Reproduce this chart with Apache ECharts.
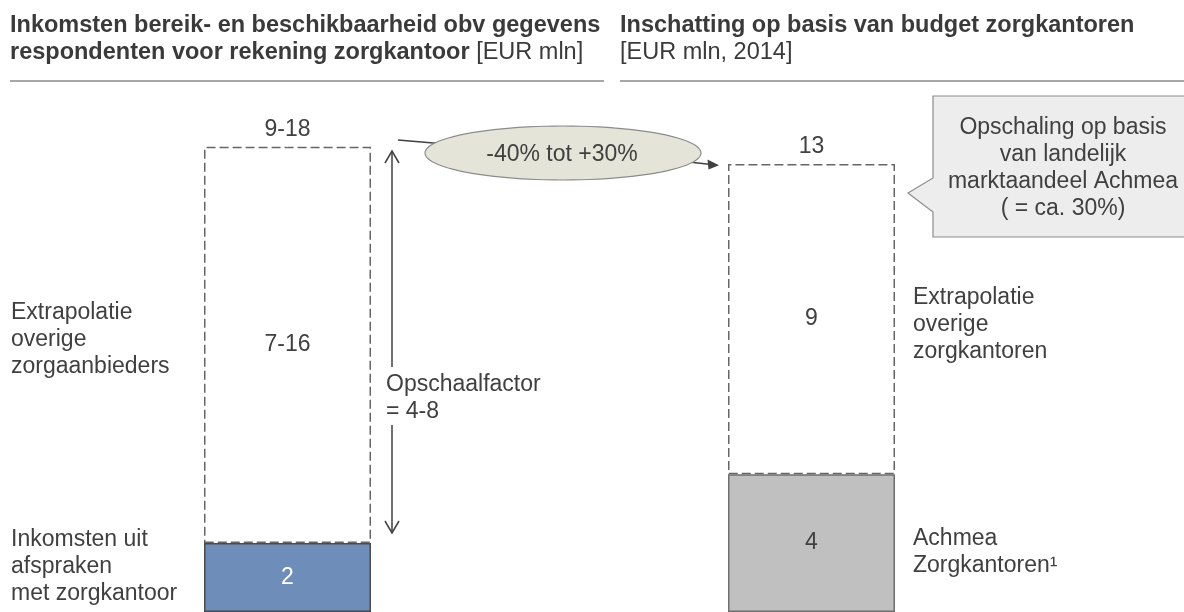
<!DOCTYPE html>
<html>
<head>
<meta charset="utf-8">
<script src="https://cdn.jsdelivr.net/npm/echarts@6/dist/echarts.min.js"></script>
<style>
  html, body { margin: 0; padding: 0; background: #fff; }
  #main { width: 1184px; height: 612px; }
</style>
</head>
<body>
<div id="main"></div>
<script>
// data
var categories = ['Respondenten zorgkantoor', 'Budget zorgkantoren'];
var baseValues = [2, 4];          // inkomsten uit afspraken / Achmea zorgkantoren
var upperValues = [11.5, 9];      // extrapolatie (links: midden van 7-16)
var baseLabels = ['2', '4'];
var upperLabels = ['7-16', '9'];
var totalLabels = ['9-18', '13'];

var FONT = '"Liberation Sans", Arial, sans-serif';
var TXT = '#404040';

function body(size) {
    return size + 'px ' + FONT;
}

function ellipsePoints(cx, cy, rx, ry) {
    var pts = [];
    for (var i = 0; i < 96; i++) {
        var a = i / 96 * Math.PI * 2;
        pts.push([cx + rx * Math.cos(a), cy + ry * Math.sin(a)]);
    }
    return pts;
}

function label(x, y, text, align) {
    return {
        type: 'text', x: x, y: y, z: 20,
        style: {
            text: text, font: body(23), fill: TXT, lineHeight: 27,
            align: align || 'left', verticalAlign: 'middle'
        }
    };
}

var titleRich = {
    b: { fontFamily: FONT, fontSize: 23.5, fontWeight: 'bold', lineHeight: 27, fill: '#3a3a3a' },
    r: { fontFamily: FONT, fontSize: 23.5, lineHeight: 27, fill: '#3a3a3a' }
};

var lineStyle = { stroke: '#404040', lineWidth: 1.5 };

var graphics = [
    {
        type: 'text', x: 10, y: 39,
        style: {
            text: '{b|Inkomsten bereik- en beschikbaarheid obv gegevens}\n{b|respondenten voor rekening zorgkantoor}{r| [EUR mln]}',
            rich: titleRich, verticalAlign: 'middle', align: 'left'
        }
    },
    {
        type: 'text', x: 620, y: 39,
        style: {
            text: '{b|Inschatting op basis van budget zorgkantoren}\n{r|[EUR mln, 2014]}',
            rich: titleRich, verticalAlign: 'middle', align: 'left'
        }
    },
    { type: 'line', shape: { x1: 10, y1: 81, x2: 604, y2: 81 }, style: { stroke: '#8a8a8a', lineWidth: 1.5 } },
    { type: 'line', shape: { x1: 620, y1: 81, x2: 1184, y2: 81 }, style: { stroke: '#8a8a8a', lineWidth: 1.5 } },

    label(11, 340, 'Extrapolatie\noverige\nzorgaanbieders'),
    label(11, 567, 'Inkomsten uit\nafspraken\nmet zorgkantoor'),
    label(913, 325, 'Extrapolatie\noverige\nzorgkantoren'),
    label(913, 552, 'Achmea\nZorgkantoren\u00b9'),
    label(386, 398, 'Opschaalfactor\n= 4-8'),

    // opschaalfactor pijl
    { type: 'line', shape: { x1: 392, y1: 151, x2: 392, y2: 367 }, style: lineStyle },
    { type: 'polyline', shape: { points: [[385, 163], [392, 151], [399, 163]] }, style: lineStyle },
    { type: 'line', shape: { x1: 392, y1: 425, x2: 392, y2: 533 }, style: lineStyle },
    { type: 'polyline', shape: { points: [[385, 521], [392, 533], [399, 521]] }, style: lineStyle },

    // verbinding tussen de twee totalen
    { type: 'line', shape: { x1: 398, y1: 140, x2: 445, y2: 144 }, style: lineStyle },
    { type: 'line', shape: { x1: 680, y1: 161, x2: 709, y2: 164.2 }, style: lineStyle },
    { type: 'polygon', shape: { points: [[719, 165.3], [707.5, 159.6], [708.5, 169.6]] }, style: { fill: '#404040' } },
    { type: 'polygon', z: 10, shape: { points: ellipsePoints(563, 153, 138, 27) }, style: { fill: '#e4e5d8', stroke: '#8c8c8c', lineWidth: 1.2 } },
    { type: 'text', x: 562, y: 155, z: 11, style: { text: '-40% tot +30%', font: body(23), fill: TXT, align: 'center', verticalAlign: 'middle' } },

    // callout
    {
        type: 'polygon', z: 10,
        shape: { points: [[933, 96], [1190, 96], [1190, 237], [933, 237], [933, 212], [908, 193], [933, 178]] },
        style: { fill: '#ededed', stroke: '#8c8c8c', lineWidth: 1.2 }
    },
    label(1063, 168, 'Opschaling op basis\nvan landelijk\nmarktaandeel Achmea\n( = ca. 30%)', 'center')
];

var option = {
    animation: false,
    grid: { left: 25.5, width: 1048, top: 129.5, height: 486.5 },
    xAxis: {
        type: 'category',
        data: categories,
        show: false
    },
    yAxis: {
        type: 'value',
        min: 0,
        max: 14,
        show: false
    },
    series: [
        {
            name: 'basis',
            type: 'bar',
            stack: 'a',
            z: 3,
            barWidth: 167,
            data: baseValues.map(function (v, i) {
                return {
                    value: v,
                    itemStyle: {
                        color: i === 0 ? '#6e8db9' : '#c0c0c0',
                        borderColor: i === 0 ? '#4a4a4a' : '#6e6e6e',
                        borderWidth: 1.5
                    },
                    label: { color: i === 0 ? '#ffffff' : TXT }
                };
            }),
            label: {
                show: true,
                position: 'inside',
                fontFamily: FONT,
                fontSize: 23,
                formatter: function (p) { return baseLabels[p.dataIndex]; }
            }
        },
        {
            name: 'extrapolatie',
            type: 'bar',
            stack: 'a',
            z: 2,
            barWidth: 167,
            data: upperValues,
            itemStyle: {
                color: 'rgba(255,255,255,0)',
                borderColor: '#666666',
                borderWidth: 1.5,
                borderType: [9, 4]
            },
            label: {
                show: true,
                position: 'inside',
                color: TXT,
                fontFamily: FONT,
                fontSize: 23,
                formatter: function (p) { return upperLabels[p.dataIndex]; }
            }
        },
        {
            name: 'totaal',
            type: 'scatter',
            symbolSize: 1,
            itemStyle: { color: '#ffffff', opacity: 1 },
            data: baseValues.map(function (v, i) { return v + upperValues[i]; }),
            label: {
                show: true,
                position: 'top',
                distance: 5,
                color: TXT,
                fontFamily: FONT,
                fontSize: 23,
                formatter: function (p) { return totalLabels[p.dataIndex]; }
            }
        }
    ],
    graphic: { elements: graphics }
};

window.onload = function () {
    var chart = echarts.init(document.getElementById('main'), null, { renderer: 'canvas' });
    chart.setOption(option);
};
</script>
</body>
</html>
